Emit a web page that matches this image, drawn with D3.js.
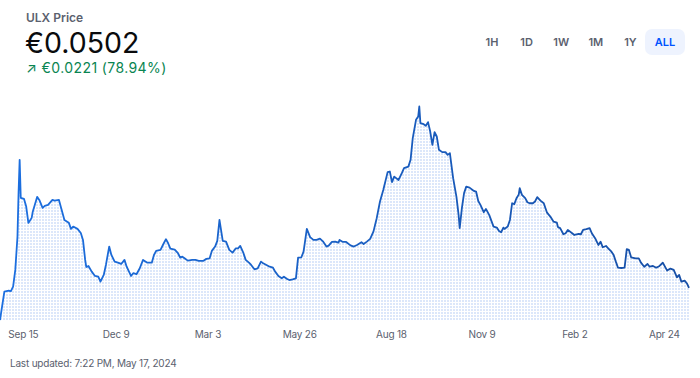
<!DOCTYPE html>
<html lang="en">
<head>
  <meta charset="utf-8">
  <title>ULX Price</title>
  <script src="https://d3js.org/d3.v7.min.js"></script>
  <style>
    body { margin: 0; background: #fff; }
    svg text { font-family: Inter, "Noto Sans", sans-serif; }
  </style>
</head>
<body>
<div id="chart"></div>
<script>
"use strict"
// days since 2022-08-25 and the price on that day (EUR)
var days = [0,4,8,10,12,14,16,17,18,19,22,24,26,29,30,34,36,39,41,44,48,50,54,56,59,63,65,67,71,74,
  76,78,79,81,84,87,90,92,95,97,100,102,105,108,111,114,116,120,122,125,128,131,135,139,141,143,147,150,152,154,
  156,160,163,165,167,169,172,176,179,182,186,189,192,194,197,199,201,204,207,210,213,216,218,220,223,225,228,230,233,236,
  239,241,244,247,250,252,255,258,260,263,265,268,271,273,276,278,281,284,287,290,293,296,299,301,304,307,310,311,314,317,
  321,324,327,331,333,336,339,342,345,348,351,355,357,359,361,365,368,370,374,376,378,381,383,384,385,388,390,392,394,396,
  398,400,402,405,408,410,412,415,418,420,421,423,425,427,430,434,436,438,440,443,445,448,452,455,457,459,461,462,465,467,
  469,471,473,475,476,478,481,483,485,488,490,492,495,498,501,504,507,510,511,513,516,518,520,524,526,530,532,534,537,540,
  542,545,548,550,552,555,557,560,562,564,566,569,572,574,576,578,582,585,587,590,593,595,598,601,604,607,609,611,614,617,
  620,622,624,627,629,631];
var prices = [0.0281,0.0477,0.0483,0.0481,0.0511,0.0627,0.0857,0.1159,0.1387,0.1124,0.1117,0.1064,0.0951,0.0986,0.1029,0.1131,0.1110,0.1055,0.1069,0.1076,0.1110,0.1105,0.1110,0.1055,0.0972,0.0953,0.0910,0.0926,0.0910,0.0882,
  0.0834,0.0696,0.0647,0.0654,0.0615,0.0585,0.0580,0.0546,0.0592,0.0661,0.0788,0.0730,0.0684,0.0677,0.0668,0.0696,0.0649,0.0585,0.0604,0.0597,0.0638,0.0696,0.0677,0.0677,0.0730,0.0758,0.0765,0.0811,0.0839,0.0811,
  0.0774,0.0767,0.0742,0.0712,0.0718,0.0707,0.0691,0.0696,0.0696,0.0689,0.0689,0.0703,0.0707,0.0758,0.0788,0.0827,0.0972,0.0827,0.0822,0.0765,0.0746,0.0776,0.0776,0.0792,0.0742,0.0696,0.0677,0.0661,0.0631,0.0638,
  0.0684,0.0673,0.0661,0.0649,0.0642,0.0615,0.0585,0.0569,0.0580,0.0564,0.0557,0.0562,0.0569,0.0712,0.0714,0.0753,0.0910,0.0853,0.0834,0.0834,0.0843,0.0822,0.0788,0.0794,0.0820,0.0822,0.0815,0.0834,0.0820,0.0820,
  0.0796,0.0788,0.0799,0.0818,0.0806,0.0822,0.0841,0.0891,0.0984,0.1099,0.1179,0.1302,0.1306,0.1233,0.1271,0.1248,0.1295,0.1329,0.1340,0.1387,0.1537,0.1663,0.1686,0.1755,0.1640,0.1633,0.1622,0.1647,0.1582,0.1490,
  0.1578,0.1548,0.1456,0.1440,0.1440,0.1421,0.1433,0.1260,0.1133,0.1007,0.0915,0.1053,0.1157,0.1202,0.1195,0.1172,0.1168,0.1103,0.1076,0.1025,0.1048,0.1007,0.0926,0.0919,0.0896,0.0887,0.0919,0.0910,0.0926,0.0972,
  0.1087,0.1081,0.1122,0.1145,0.1191,0.1145,0.1122,0.1094,0.1087,0.1087,0.1099,0.1129,0.1105,0.1087,0.1022,0.0995,0.0960,0.0953,0.0922,0.0915,0.0873,0.0880,0.0903,0.0880,0.0868,0.0875,0.0873,0.0903,0.0908,0.0915,
  0.0880,0.0846,0.0799,0.0822,0.0783,0.0792,0.0776,0.0753,0.0730,0.0684,0.0642,0.0640,0.0642,0.0770,0.0765,0.0714,0.0707,0.0707,0.0677,0.0649,0.0668,0.0649,0.0654,0.0642,0.0654,0.0677,0.0649,0.0622,0.0636,0.0627,
  0.0576,0.0592,0.0546,0.0553,0.0535,0.0502];
var tickDays = [21,106,190,274,358,441,526,608];
var tickLabels = ["Sep 15","Dec 9","Mar 3","May 26","Aug 18","Nov 9","Feb 2","Apr 24"];
var ranges = ["1H","1D","1W","1M","1Y","ALL"];

var width = 700, height = 378;
var start = new Date(Date.UTC(2022, 7, 25));
var data = days.map(function(d, i) { return {date: d3.utcDay.offset(start, d), price: prices[i]}; });

var svg = d3.select("#chart").append("svg")
  .attr("width", width)
  .attr("height", height);

var defs = svg.append("defs");
var pat = defs.append("pattern")
  .attr("id", "dots")
  .attr("patternUnits", "userSpaceOnUse")
  .attr("width", 3).attr("height", 3);
pat.append("rect").attr("width", 2).attr("height", 2).attr("fill", "#dce7fa");

var grad = defs.append("linearGradient")
  .attr("id", "lineGrad")
  .attr("gradientUnits", "userSpaceOnUse")
  .attr("x1", 0).attr("x2", 689).attr("y1", 0).attr("y2", 0);
grad.append("stop").attr("offset", "0%").attr("stop-color", "#1c6fe0");
grad.append("stop").attr("offset", "100%").attr("stop-color", "#174fa6");

var x = d3.scaleUtc()
  .domain(d3.extent(data, function(d) { return d.date; }))
  .range([0, 689]);
var y = d3.scaleLinear()
  .domain(d3.extent(prices))
  .range([320, 106.5]);

var area = d3.area()
  .x(function(d) { return x(d.date); })
  .y0(320)
  .y1(function(d) { return y(d.price); });
var line = d3.line()
  .x(function(d) { return x(d.date); })
  .y(function(d) { return y(d.price); });

svg.append("path").datum(data)
  .attr("d", area)
  .attr("fill", "url(#dots)");
svg.append("path").datum(data)
  .attr("d", line)
  .attr("fill", "none")
  .attr("stroke", "url(#lineGrad)")
  .attr("stroke-width", 1.8)
  .attr("stroke-linejoin", "round");

// x axis
var xAxis = d3.axisBottom(x)
  .tickValues(tickDays.map(function(d) { return d3.utcDay.offset(start, d); }))
  .tickFormat(function(d, i) { return tickLabels[i]; })
  .tickSize(0)
  .tickPadding(0);
var gx = svg.append("g").attr("transform", "translate(0,331)").call(xAxis);
gx.select(".domain").remove();
gx.selectAll("text")
  .attr("fill", "#5b616e")
  .style("font-size", "10px")
  .style("letter-spacing", "-0.2px")
  .style("font-family", "Inter, sans-serif");

// header
svg.append("text").attr("x", 26).attr("y", 22)
  .attr("fill", "#5b616e").style("font-size", "12px").style("font-weight", 600)
  .text("ULX Price");
svg.append("text").attr("x", 25).attr("y", 53)
  .attr("fill", "#0a0b0d").style("font-size", "28.5px")
  .text("€0.0502");
svg.append("text").attr("x", 26).attr("y", 73)
  .attr("fill", "#098551").style("font-size", "14px").style("letter-spacing", "0.4px")
  .text("↗ €0.0221 (78.94%)");

// range buttons
var btnX = d3.scalePoint().domain(ranges).range([492, 665]);
svg.append("rect")
  .attr("x", btnX("ALL") - 20).attr("y", 29)
  .attr("width", 40).attr("height", 26).attr("rx", 7)
  .attr("fill", "#eef3fe");
svg.selectAll(".btn").data(ranges).enter().append("text")
  .attr("class", "btn")
  .attr("x", function(d) { return btnX(d); })
  .attr("y", 46)
  .attr("text-anchor", "middle")
  .attr("fill", function(d) { return d === "ALL" ? "#0052ff" : "#5b616e"; })
  .style("font-size", "11px").style("font-weight", 600)
  .text(function(d) { return d; });

// footer
svg.append("text").attr("x", 10).attr("y", 367)
  .attr("fill", "#5b616e").style("font-size", "10px").style("letter-spacing", "-0.2px")
  .text("Last updated: 7:22 PM, May 17, 2024");
</script>
</body>
</html>
